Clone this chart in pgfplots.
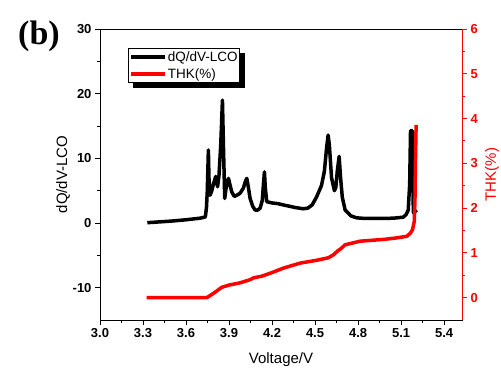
\documentclass[border=0pt]{standalone}
\usepackage{pgfplots}
\pgfplotsset{compat=1.18}
\usepackage{fontspec}
\setmainfont{Liberation Sans}
\newfontfamily\serifb{Liberation Serif}
\usetikzlibrary{backgrounds}
\begin{document}
\begin{tikzpicture}
\useasboundingbox (0,0) rectangle (501pt,372pt);
\pgfplotsset{
  common/.style={
    at={(100pt,52pt)}, anchor=south west, scale only axis,
    width=362pt, height=291pt,
    xmin=3.0, xmax=5.525,
    tick align=outside,
    major tick length=5pt, minor tick length=3pt,
    /pgf/number format/assume math mode=true,
    tick label style={font=\bfseries\fontsize{13}{13}\selectfont},
    label style={font=\fontsize{15}{15}\selectfont},
  }
}
\begin{axis}[common,
  ymin=-15, ymax=30,
  tick pos=left,
  xtick={3.0,3.3,3.6,3.9,4.2,4.5,4.8,5.1,5.4},
  minor x tick num=1,
  ytick={-10,0,10,20,30},
  minor y tick num=1,
  axis line style={line width=0.9pt},
  every tick/.style={black, line width=0.9pt},
  xticklabel style={/pgf/number format/.cd, fixed, fixed zerofill, precision=1},
  xlabel={Voltage/V},
  ylabel={dQ/dV-LCO},
  xlabel style={at={(axis description cs:0.5,-0.1375)}, anchor=center},
  ylabel style={at={(axis description cs:-0.102,0.5)}, anchor=center, rotate=0},
]
\addplot[black, line width=3.5pt, line join=round] coordinates {
(3.33,0.05) (3.40,0.15) (3.50,0.3) (3.60,0.5) (3.70,0.75) (3.735,0.95)
(3.743,2.5) (3.748,4.8) (3.752,8) (3.756,11.3) (3.760,7) (3.768,4.3)
(3.780,5.0) (3.790,5.9) (3.807,7.2) (3.820,5.6) (3.830,7.4) (3.842,12)
(3.854,19.0) (3.862,11) (3.870,3.8) (3.880,5.5) (3.896,6.9) (3.910,5.6)
(3.919,4.8) (3.937,4.1) (3.955,4.3) (3.977,4.6) (4.000,5.4) (4.015,6.5)
(4.024,6.9) (4.035,5.5) (4.047,3.8) (4.065,2.6) (4.082,2.0) (4.100,2.0)
(4.117,2.3) (4.132,3.5) (4.140,6) (4.147,7.9) (4.153,5.5) (4.163,3.3)
(4.200,3.1) (4.240,3.0) (4.277,2.8) (4.320,2.6) (4.360,2.4) (4.417,2.2)
(4.450,2.3) (4.480,2.8) (4.510,4.0)
(4.545,5.8) (4.565,8) (4.580,11.5) (4.591,13.6) (4.600,12) (4.615,7)
(4.635,5.0) (4.645,5.5) (4.655,8) (4.668,10.3) (4.678,7) (4.690,4)
(4.710,2.0) (4.750,1.1) (4.790,0.8) (4.850,0.7) (4.975,0.7) (5.050,0.75)
(5.115,0.9) (5.135,1.3) (5.150,2.0) (5.160,6) (5.166,14.3) (5.178,14.3)
(5.182,6) (5.186,1.6) (5.198,1.8) (5.210,2.0)
};
\end{axis}
\begin{axis}[common,
  ymin=-0.5, ymax=6,
  axis x line=none,
  axis y line*=right,
  ytick={0,1,2,3,4,5,6},
  minor y tick num=1,
  axis line style={red, line width=0.9pt},
  every tick/.style={red, line width=0.9pt},
  yticklabel style={red},
  ylabel={THK(\%)},
  ylabel style={red, at={(axis description cs:1.083,0.5)}, anchor=center, rotate=0},
  legend cell align=left,
  legend style={at={(axis description cs:0.0773,0.935)}, anchor=north west,
    draw=black, line width=0.8pt, fill=white,
    font=\fontsize{13.5}{13.5}\selectfont,
    inner xsep=1pt, inner ysep=3pt, row sep=6pt,
    nodes={inner xsep=1pt, inner ysep=0pt},
    name=leg},
  legend image code/.code={\draw[#1] (-1pt,0pt) -- (33pt,0pt);},
]
\addlegendimage{black, line width=3.5pt}
\addlegendentry{dQ/dV-LCO}
\addplot[red, line width=3.5pt, line join=round] coordinates {
(3.326,0.0) (3.745,0.0) (3.780,0.07) (3.820,0.16) (3.849,0.23) (3.900,0.28)
(3.977,0.33) (4.047,0.40) (4.070,0.44) (4.130,0.48) (4.200,0.56) (4.280,0.66)
(4.395,0.77) (4.450,0.80) (4.520,0.84) (4.593,0.89) (4.630,0.96) (4.660,1.05)
(4.675,1.08) (4.710,1.18) (4.814,1.26) (4.977,1.30) (5.060,1.33) (5.140,1.37)
(5.165,1.44) (5.180,1.52) (5.192,1.70) (5.197,2.2) (5.200,3.0) (5.205,3.86)
};
\addlegendentry{THK(\%)}
\end{axis}
\begin{scope}[on background layer]
\fill[black] ([xshift=5pt,yshift=-5pt]leg.south west) rectangle ([xshift=5pt,yshift=-5pt]leg.north east);
\end{scope}
\node[font=\serifb\bfseries\fontsize{34}{34}\selectfont] at (39pt,336pt) {(b)};
\end{tikzpicture}
\end{document}
